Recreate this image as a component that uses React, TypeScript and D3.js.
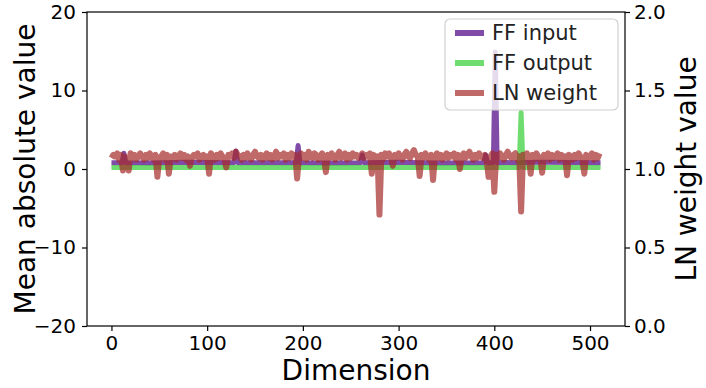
import React, { useEffect, useRef } from 'react';
import * as d3 from 'd3';

const WIDTH = 706;
const HEIGHT = 388;
const margin = { top: 12, right: 81, bottom: 62, left: 87 };

const xTicks = [0, 100, 200, 300, 400, 500];
const leftTicks = [-20, -10, 0, 10, 20];
const rightTicks = [0, 0.5, 1, 1.5, 2];

const seriesNames = ['FF input', 'FF output', 'LN weight'];
const seriesColors = ['#4b0082', '#32cd32', '#a52a2a'];

// [dimension, value] - sparse where the line is flat
const ffInput: [number, number][] = [
	[0, 0.8], [11, 0.8], [13, 2.0], [15, 0.8], [40, 0.75], [80, 0.85], [128, 0.8], [130, 2.3], [132, 0.8],
	[160, 0.8], [193, 0.8], [195, 3.0], [197, 0.8], [230, 0.75], [260, 0.8], [262, 1.8], [264, 0.8],
	[300, 0.85], [340, 0.75], [389, 0.8], [391, 1.8], [393, 0.8], [399, 0.8], [401, 14.9], [403, 0.8],
	[450, 0.85], [511, 0.8],
];
const ffOutput: [number, number][] = [
	[0, 0.2], [426, 0.2], [428, 7.2], [430, 0.2], [511, 0.2],
];

// LN weight, one value every 2 dimensions (0, 2, 4 ... 510)
const lnWeight = [
	1.07, 1.09, 1.08, 1.10, 1.06, 1.09, 0.99, 1.08, 1.06, 0.99, 1.10, 1.07, 1.09, 1.06, 1.08, 1.10,
	1.08, 1.06, 1.09, 1.07, 1.10, 1.08, 1.06, 1.09, 0.95, 1.07, 1.08, 1.10, 1.06, 1.09, 0.97, 1.08,
	1.07, 1.09, 1.06, 1.08, 1.10, 1.07, 1.09, 1.06, 1.08, 1.02, 1.07, 1.09, 1.08, 1.10, 1.06, 1.08,
	1.09, 1.07, 1.08, 0.97, 1.10, 1.08, 1.06, 1.09, 1.07, 1.10, 1.08, 1.06, 1.01, 1.09, 1.08, 1.10,
	1.07, 1.11, 1.09, 1.08, 1.06, 1.09, 1.07, 1.10, 1.08, 1.06, 1.09, 1.11, 1.08, 1.07, 1.09, 1.06,
	1.08, 1.10, 1.07, 1.09, 1.06, 1.08, 1.11, 1.07, 1.09, 1.08, 1.10, 1.06, 1.09, 1.07, 1.10, 1.08,
	1.09, 0.94, 1.08, 1.10, 1.07, 1.09, 1.06, 1.11, 1.08, 1.07, 1.10, 1.09, 1.06, 1.08, 1.10, 1.07,
	0.98, 1.09, 1.07, 1.10, 1.08, 1.06, 1.09, 1.11, 1.07, 1.08, 1.10, 1.06, 1.09, 1.07, 1.10, 1.08,
	1.09, 1.07, 1.08, 1.10, 1.07, 1.09, 1.08, 1.10, 0.97, 1.09, 1.07, 1.08, 0.71, 1.09, 1.06, 1.10,
	1.08, 1.10, 1.07, 1.02, 1.09, 1.07, 1.10, 1.08, 1.06, 1.09, 1.11, 1.08, 1.07, 1.10, 1.12, 1.09,
	1.08, 0.955, 1.09, 1.07, 1.10, 1.08, 1.06, 1.09, 0.93, 1.08, 1.10, 1.07, 1.09, 1.06, 1.08, 1.10,
	1.07, 1.09, 1.08, 1.10, 1.06, 1.09, 1.00, 1.08, 1.10, 1.07, 1.09, 1.11, 1.08, 1.06, 1.09, 1.07,
	1.10, 1.08, 1.07, 1.09, 1.06, 0.95, 1.08, 1.10, 0.855, 1.09, 1.07, 1.10, 1.08, 1.06, 1.09, 1.11,
	1.08, 1.07, 1.09, 1.10, 1.06, 1.08, 0.73, 1.09, 1.07, 1.10, 1.08, 0.97, 1.09, 1.06, 1.10, 1.08,
	1.07, 0.976, 1.09, 1.08, 1.10, 1.06, 1.09, 1.07, 1.08, 1.10, 1.06, 1.09, 1.07, 1.08, 0.96, 1.09,
	1.08, 1.06, 1.09, 1.07, 1.10, 1.08, 1.06, 0.97, 1.09, 1.07, 1.08, 1.10, 1.06, 1.09, 1.07, 1.10,
];

const FONT = 'DejaVu Sans, sans-serif';

export default function App() {
	const ref = useRef<SVGSVGElement | null>(null);

	useEffect(() => {
		const svg = d3.select(ref.current);
		svg.selectAll('*').remove();

		const x0 = margin.left;
		const x1 = WIDTH - margin.right;
		const y0 = margin.top;
		const y1 = HEIGHT - margin.bottom;

		// matplotlib default 5% margins around 0..511
		const xScale = d3.scaleLinear().domain([-25.55, 536.55]).range([x0, x1]);
		const yLeft = d3.scaleLinear().domain([-20, 20]).range([y1, y0]);
		const yRight = d3.scaleLinear().domain([0, 2]).range([y1, y0]);

		svg.append('defs')
			.append('clipPath')
			.attr('id', 'plot-clip')
			.append('rect')
			.attr('x', x0)
			.attr('y', y0)
			.attr('width', x1 - x0)
			.attr('height', y1 - y0);

		const plot = svg.append('g').attr('clip-path', 'url(#plot-clip)');

		const leftLine = d3
			.line<[number, number]>()
			.x(d => xScale(d[0]))
			.y(d => yLeft(d[1]));
		const rightLine = d3
			.line<[number, number]>()
			.x(d => xScale(d[0]))
			.y(d => yRight(d[1]));

		const lnPoints: [number, number][] = lnWeight.map((v, i) => [i * 2, v]);

		const lines = [
			{ data: ffInput, gen: leftLine },
			{ data: ffOutput, gen: leftLine },
			{ data: lnPoints, gen: rightLine },
		];
		lines.forEach((s, i) => {
			plot.append('path')
				.datum(s.data)
				.attr('d', s.gen)
				.attr('fill', 'none')
				.attr('stroke', seriesColors[i])
				.attr('stroke-opacity', 0.7)
				.attr('stroke-width', i === 2 ? 6 : 5)
				.attr('stroke-linejoin', 'round');
		});

		// axes
		const axisStyle = (g: d3.Selection<SVGGElement, unknown, null, undefined>) => {
			g.selectAll('.domain').remove();
			g.selectAll('.tick line').attr('stroke', '#000').attr('stroke-width', 1.2);
			g.selectAll('.tick text').attr('fill', '#000').style('font-family', FONT).style('font-size', '20px');
		};

		svg.append('g')
			.attr('transform', `translate(0,${y1})`)
			.call(d3.axisBottom(xScale).tickValues(xTicks).tickSize(5).tickPadding(5).tickFormat(d3.format('d')))
			.call(axisStyle);

		svg.append('g')
			.attr('transform', `translate(${x0},0)`)
			.call(d3.axisLeft(yLeft).tickValues(leftTicks).tickSize(5).tickPadding(6).tickFormat(d3.format('d')))
			.call(axisStyle);

		svg.append('g')
			.attr('transform', `translate(${x1},0)`)
			.call(d3.axisRight(yRight).tickValues(rightTicks).tickSize(5).tickPadding(4).tickFormat(d3.format('.1f')))
			.call(axisStyle);

		// spines
		svg.append('rect')
			.attr('x', x0)
			.attr('y', y0)
			.attr('width', x1 - x0)
			.attr('height', y1 - y0)
			.attr('fill', 'none')
			.attr('stroke', '#000')
			.attr('stroke-width', 1.2);

		// axis titles
		svg.append('text')
			.attr('x', (x0 + x1) / 2)
			.attr('y', 380)
			.attr('text-anchor', 'middle')
			.style('font-family', FONT)
			.style('font-size', '28px')
			.text('Dimension');

		svg.append('text')
			.attr('transform', `translate(35,${(y0 + y1) / 2}) rotate(-90)`)
			.attr('text-anchor', 'middle')
			.style('font-family', FONT)
			.style('font-size', '28px')
			.text('Mean absolute value');

		svg.append('text')
			.attr('transform', `translate(696,${(y0 + y1) / 2}) rotate(-90)`)
			.attr('text-anchor', 'middle')
			.style('font-family', FONT)
			.style('font-size', '28px')
			.text('LN weight value');

		// legend
		const legend = svg.append('g').attr('transform', 'translate(445,19)');
		legend.append('rect')
			.attr('width', 173)
			.attr('height', 91)
			.attr('rx', 5)
			.attr('fill', '#fff')
			.attr('fill-opacity', 0.8)
			.attr('stroke', '#d0d0d0')
			.attr('stroke-width', 1.2);
		seriesNames.forEach((name, i) => {
			const ly = 14 + i * 30;
			legend.append('line')
				.attr('x1', 10)
				.attr('x2', 39)
				.attr('y1', ly)
				.attr('y2', ly)
				.attr('stroke', seriesColors[i])
				.attr('stroke-opacity', 0.7)
				.attr('stroke-width', 6);
			legend.append('text')
				.attr('x', 47)
				.attr('y', ly + 7)
				.attr('fill', '#222')
				.style('font-family', FONT)
				.style('font-size', '21px')
				.text(name);
		});
	}, []);

	return (
		<svg
			ref={ref}
			width={WIDTH}
			height={HEIGHT}
			style={{ position: 'absolute', left: 0, top: 0, background: '#fff' }}
		/>
	);
}
